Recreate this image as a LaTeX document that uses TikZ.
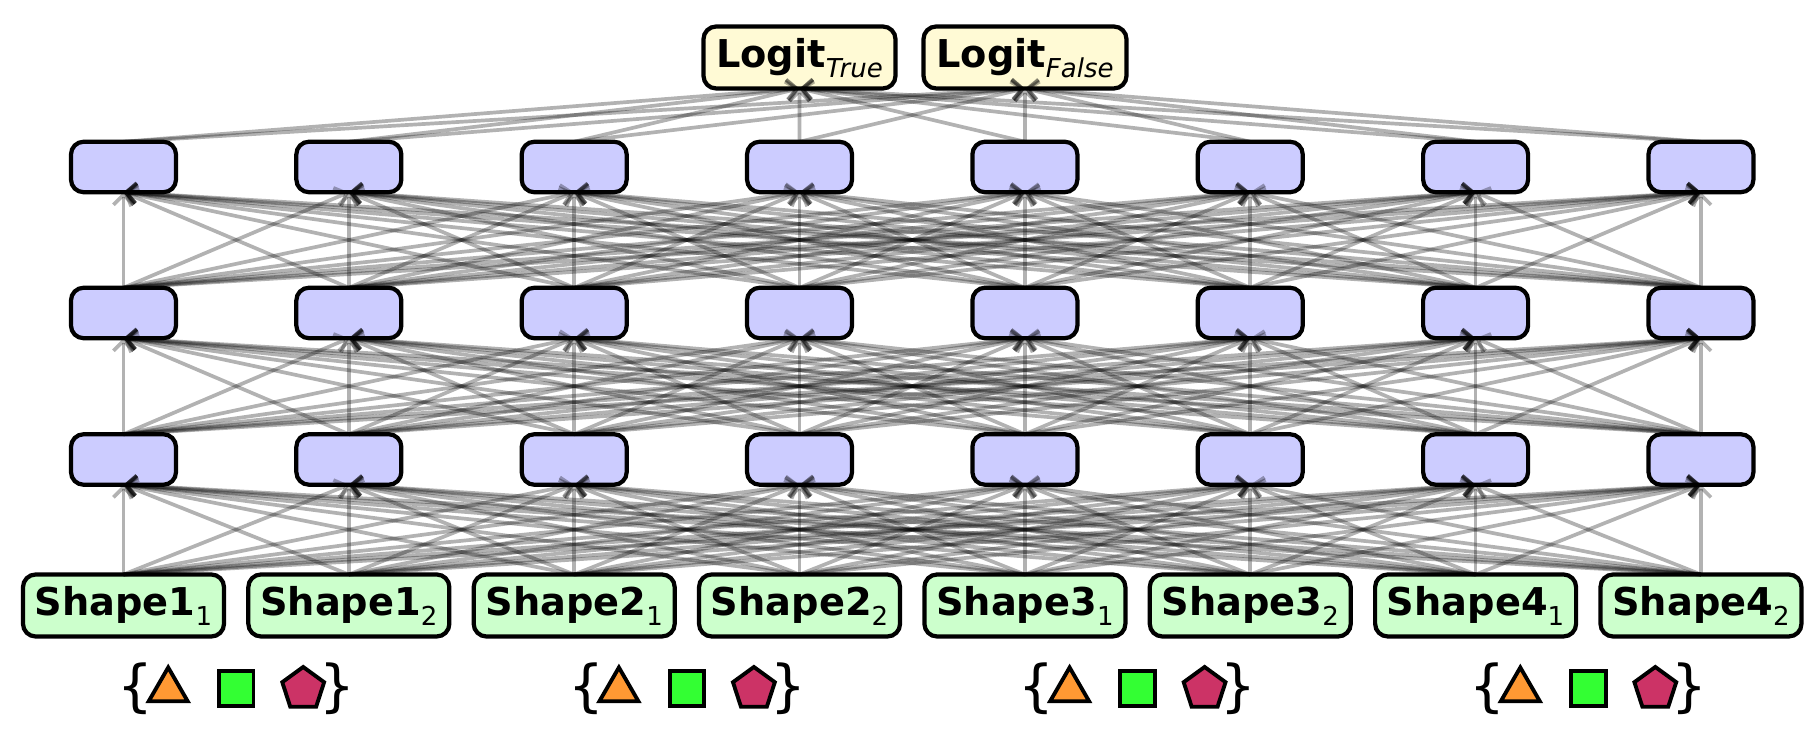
\documentclass[tikz,border=0pt]{standalone}
\usepackage{fontspec}
\setmainfont{DejaVu Sans}
\usetikzlibrary{arrows.meta,shapes.geometric}
\newcommand{\lowtxt}[1]{\raisebox{-0.26em}{\fontsize{7.4}{8}\selectfont\mdseries #1}}
\definecolor{inputfill}{HTML}{CCFFCC}
\definecolor{hiddenfill}{HTML}{CCCCFF}
\definecolor{logitfill}{HTML}{FFFAD5}
\definecolor{triorange}{HTML}{FF9933}
\definecolor{sqgreen}{HTML}{33FF33}
\definecolor{pentred}{HTML}{CC3366}
\tikzset{
    unit/.style={draw=black,line width=1.2pt,rounded corners=3.6pt,inner sep=0pt,outer sep=0pt},
    inputunit/.style={unit,fill=inputfill,minimum width=2.01cm,minimum height=.62cm,
        font=\fontsize{10.9}{12}\selectfont\bfseries,text height=.195cm,text depth=0pt},
    logitunit/.style={inputunit,fill=logitfill},
    hiddenunit/.style={unit,fill=hiddenfill,minimum width=1.05cm,minimum height=.505cm},
    link/.style={draw=black,draw opacity=.3,line width=1.05pt,
        -{Straight Barb[length=.1cm,width=.2cm,line width=1.05pt]}},
    icon/.style={draw=black,line width=1.1pt,inner sep=0pt,outer sep=0pt},
    brace/.style={inner sep=0pt,outer sep=0pt,font=\fontsize{16}{18}\selectfont}
}
\begin{document}
\begin{tikzpicture}
    \useasboundingbox(0,0)rectangle(18.16,7.4);
    % units, row by row
    \foreach \i/\s/\k in {1/1/1,2/1/2,3/2/1,4/2/2,5/3/1,6/3/2,7/4/1,8/4/2}{
        \pgfmathsetmacro{\px}{1.235+(\i-1)*2.2535}
        \node[inputunit](shape\i)at(\px,1.345){Shape\s\lowtxt{\k}};
        \node[hiddenunit](hidA\i)at(\px,2.805){};
        \node[hiddenunit](hidB\i)at(\px,4.27){};
        \node[hiddenunit](hidC\i)at(\px,5.73){};
    }
    \node[logitunit,minimum width=1.92cm](logitT)at(7.995,6.825){Logit\lowtxt{\itshape True}};
    \node[logitunit,minimum width=2.03cm](logitF)at(10.25,6.825){Logit\lowtxt{\itshape False}};
    % connections
    \foreach \a/\b in {shape/hidA,hidA/hidB,hidB/hidC}
        \foreach \i in {1,...,8}
            \foreach \j in {1,...,8}
                \draw[link](\a\i.north)--(\b\j.south);
    \foreach \i in {1,...,8}{
        \draw[link](hidC\i.north)--(logitT.south);
        \draw[link](hidC\i.north)--(logitF.south);
    }
    % shape sets under the inputs
    \foreach \g in {1,2,3,4}{
        \pgfmathsetmacro{\px}{2.362+(\g-1)*4.507}
        \node[brace](open\g)at(\px-1.01,.51){\{};
        \node[icon,regular polygon,regular polygon sides=3,minimum size=.45cm,fill=triorange](tri\g)at(\px-.68,.5){};
        \node[icon,minimum size=.345cm,fill=sqgreen](sq\g)at(\px,.515){};
        \node[icon,regular polygon,regular polygon sides=5,minimum size=.44cm,fill=pentred](pent\g)at(\px+.67,.51){};
        \node[brace](close\g)at(\px+1.01,.51){\}};
    }
\end{tikzpicture}
\end{document}
